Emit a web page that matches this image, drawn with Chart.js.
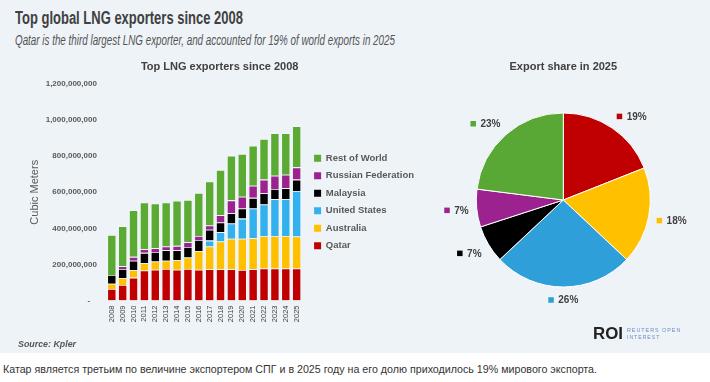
<!DOCTYPE html>
<html><head><meta charset="utf-8">
<script src="https://cdn.jsdelivr.net/npm/chart.js@4.4.1/dist/chart.umd.min.js"></script>
<style>
html,body{margin:0;padding:0;background:#fff;width:710px;height:382px;overflow:hidden;font-family:"Liberation Sans",Arial,sans-serif;}
#panel{position:absolute;left:0;top:0;width:710px;height:353px;background:#eef3f8;}
.t{position:absolute;white-space:nowrap;transform-origin:0 0;line-height:1;}
canvas{position:absolute;}
</style></head><body>
<div id="panel"></div>
<div class="t" data-w="228" style="left:15px;top:8.8px;font-size:18px;font-weight:bold;color:#404040;font-family:'Liberation Sans Narrow','Liberation Sans',Arial,sans-serif;">Top global LNG exporters since 2008</div>
<div class="t" data-w="380" style="left:15px;top:33.2px;font-size:14px;font-style:italic;color:#555;font-family:'Liberation Sans Narrow','Liberation Sans',Arial,sans-serif;">Qatar is the third largest LNG exporter, and accounted for 19% of world exports in 2025</div>
<canvas id="bar" width="424" height="352" style="left:0;top:0;"></canvas>
<canvas id="pie" width="270" height="300" style="left:426px;top:52px;"></canvas>
<div class="t" data-w="58" style="left:18px;top:339.8px;font-size:8.5px;font-weight:bold;font-style:italic;color:#555;">Source: Kpler</div>
<div class="t" data-w="30" style="left:593.3px;top:325.3px;font-size:16.5px;font-weight:bold;color:#222;">ROI</div>
<div class="t" data-w="54.3" style="left:626.7px;top:327.6px;font-size:5.6px;color:#6b8fc0;letter-spacing:1px;">REUTERS OPEN</div>
<div class="t" data-w="33.3" style="left:626.7px;top:335px;font-size:5.6px;color:#6b8fc0;letter-spacing:1px;">INTEREST</div>
<div class="t" data-w="594" style="left:3px;top:364.4px;font-size:11px;color:#333;font-family:'Liberation Sans Narrow','Liberation Sans',Arial,sans-serif;">Катар является третьим по величине экспортером СПГ и в 2025 году на его долю приходилось 19% мирового экспорта.</div>
<script>
// ---- data (million cubic meters) ----
const years = ['2008','2009','2010','2011','2012','2013','2014','2015','2016','2017','2018','2019','2020','2021','2022','2023','2024','2025'];
const qatar     = [64, 86, 127, 166, 171, 175, 171, 175, 171, 173, 173, 173, 169, 173, 177, 177, 177, 177];
const australia = [29, 39, 41, 41, 45, 46, 52, 63, 104, 126, 154, 169, 173, 172, 181, 181, 181, 178];
const unitedStates = [0, 0, 0, 0, 0, 0, 0, 0, 0, 33, 52, 85, 112, 165, 174, 204, 203, 252];
const malaysia  = [49, 50, 53, 57, 53, 58, 56, 59, 61, 60, 53, 57, 56, 59, 63, 56, 62, 63];
const russia    = [0, 15, 21, 20, 21, 20, 24, 26, 22, 24, 41, 71, 65, 67, 75, 74, 74, 68];
const restOfWorld = [222, 222, 259, 259, 248, 244, 250, 235, 238, 244, 250, 248, 237, 222, 226, 235, 230, 228];
const seriesNames = ['Qatar','Australia','United States','Malaysia','Russian Federation','Rest of World'];
const yTicks = [0, 200, 400, 600, 800, 1000, 1200];
const pieShares = [19, 18, 26, 7, 7, 23];

const barColors = ['#C00000','#FFC000','#33B1EE','#000000','#9C2292','#5BAA33'];
const pieColors = ['#C00000','#FFC000','#2E9FD9','#000000','#9C2290','#59A835'];

// fit header texts to measured widths
document.querySelectorAll('.t[data-w]').forEach(el=>{
  const w = el.getBoundingClientRect().width;
  el.style.transform = 'scaleX(' + (parseFloat(el.dataset.w)/w) + ')';
});

Chart.defaults.font.family = '"Liberation Sans", Arial, sans-serif';

const seriesData = [qatar, australia, unitedStates, malaysia, russia, restOfWorld];
new Chart(document.getElementById('bar'), {
  type: 'bar',
  data: {
    labels: years,
    datasets: seriesData.map((d,i)=>({
      label: seriesNames[i], data: d, backgroundColor: barColors[i],
      borderColor: 'rgba(255,255,255,0.5)', borderWidth: 0.8,
      barPercentage: 0.83, categoryPercentage: 1
    }))
  },
  options: {
    responsive: false, animation: false, devicePixelRatio: 1,
    layout: {padding: {left: 15.4, top: 0, right: 0, bottom: 0}},
    plugins: {
      title: {display: true, text: 'Top LNG exporters since 2008', color: '#404040',
              font: {size: 11, weight: 'bold'}, padding: {top: 60.4, bottom: 10.4}},
      legend: {
        position: 'right', fullSize: false, reverse: true, align: 'center', maxWidth: 200,
        title: {display: true, text: '', padding: {top: 4, bottom: 3.6}, font: {size: 10}},
        labels: {
          boxWidth: 7, boxHeight: 7, padding: 8, color: '#595959',
          font: {size: 9.5, weight: 'bold'},
          generateLabels(chart){
            const items = Chart.defaults.plugins.legend.labels.generateLabels(chart);
            items.forEach(it=>{ it.lineWidth = 0; it.strokeStyle = 'rgba(0,0,0,0)'; });
            return items;
          }
        }
      },
      tooltip: {enabled: false}
    },
    scales: {
      x: {
        stacked: true,
        grid: {display: false, drawTicks: false}, border: {display: false},
        ticks: {autoSkip: false, maxRotation: 90, minRotation: 90, padding: 5, color: '#404040', font: {size: 7.5}},
        afterFit(s){ s.height = 51.5; }
      },
      y: {
        stacked: true, min: 0, max: 1200,
        afterBuildTicks(s){ s.ticks = yTicks.map(v=>({value: v})); },
        ticks: {padding: 9.5, color: '#595959', font: {size: 8, weight: 'bold'},
                callback: v => v === 0 ? '-   ' : (v*1e6).toLocaleString('en-US')},
        grid: {display: false, drawTicks: false}, border: {display: false},
        title: {display: true, text: 'Cubic Meters', color: '#595959', font: {size: 11}, padding: {top: 12.6, bottom: 0}},
        afterFit(s){ s.width = 90.95; }
      },
      y2: {
        position: 'right', display: true,
        grid: {display: false, drawTicks: false}, border: {display: false},
        ticks: {display: false},
        afterFit(s){ s.width = 4; }
      }
    }
  }
});

const pieLabelPlugin = {
  id: 'pieLabels',
  afterDatasetsDraw(chart){
    const ctx = chart.ctx;
    const meta = chart.getDatasetMeta(0);
    ctx.save();
    ctx.font = 'bold 10px "Liberation Sans", Arial, sans-serif';
    ctx.textBaseline = 'middle';
    const s = t => Math.max(-1, Math.min(1, t*3));
    meta.data.forEach((arc, i) => {
      const p = arc.getProps(['x','y','startAngle','endAngle','outerRadius'], true);
      const a = (p.startAngle + p.endAngle)/2;
      const ux = Math.cos(a), uy = Math.sin(a);
      const R = p.outerRadius + 8;
      const px = p.x + ux*R, py = p.y + uy*R;
      const text = pieShares[i] + '%';
      const tw = ctx.measureText(text).width;
      const mk = 5.5, gap = 4.5;
      const w = mk + gap + tw, h = 10;
      const cx = px + s(ux)*w/2, cy = py + s(uy)*h/2;
      const left = cx - w/2;
      ctx.fillStyle = pieColors[i];
      ctx.fillRect(left, cy - mk/2, mk, mk);
      ctx.fillStyle = '#404040';
      ctx.fillText(text, left + mk + gap, cy + 0.5);
    });
    ctx.restore();
  }
};

new Chart(document.getElementById('pie'), {
  type: 'pie',
  data: {labels: seriesNames, datasets: [{data: pieShares, backgroundColor: pieColors, borderColor: '#ffffff', borderWidth: 1}]},
  options: {
    responsive: false, animation: false, devicePixelRatio: 1,
    layout: {padding: {left: 49.8, right: 45.2, top: 0, bottom: 64.5}},
    plugins: {
      legend: {display: false}, tooltip: {enabled: false},
      title: {display: true, text: 'Export share in 2025', color: '#404040',
              font: {size: 11, weight: 'bold'}, padding: {top: 8.4, bottom: 38.9}}
    }
  },
  plugins: [pieLabelPlugin]
});
</script>
</body></html>
